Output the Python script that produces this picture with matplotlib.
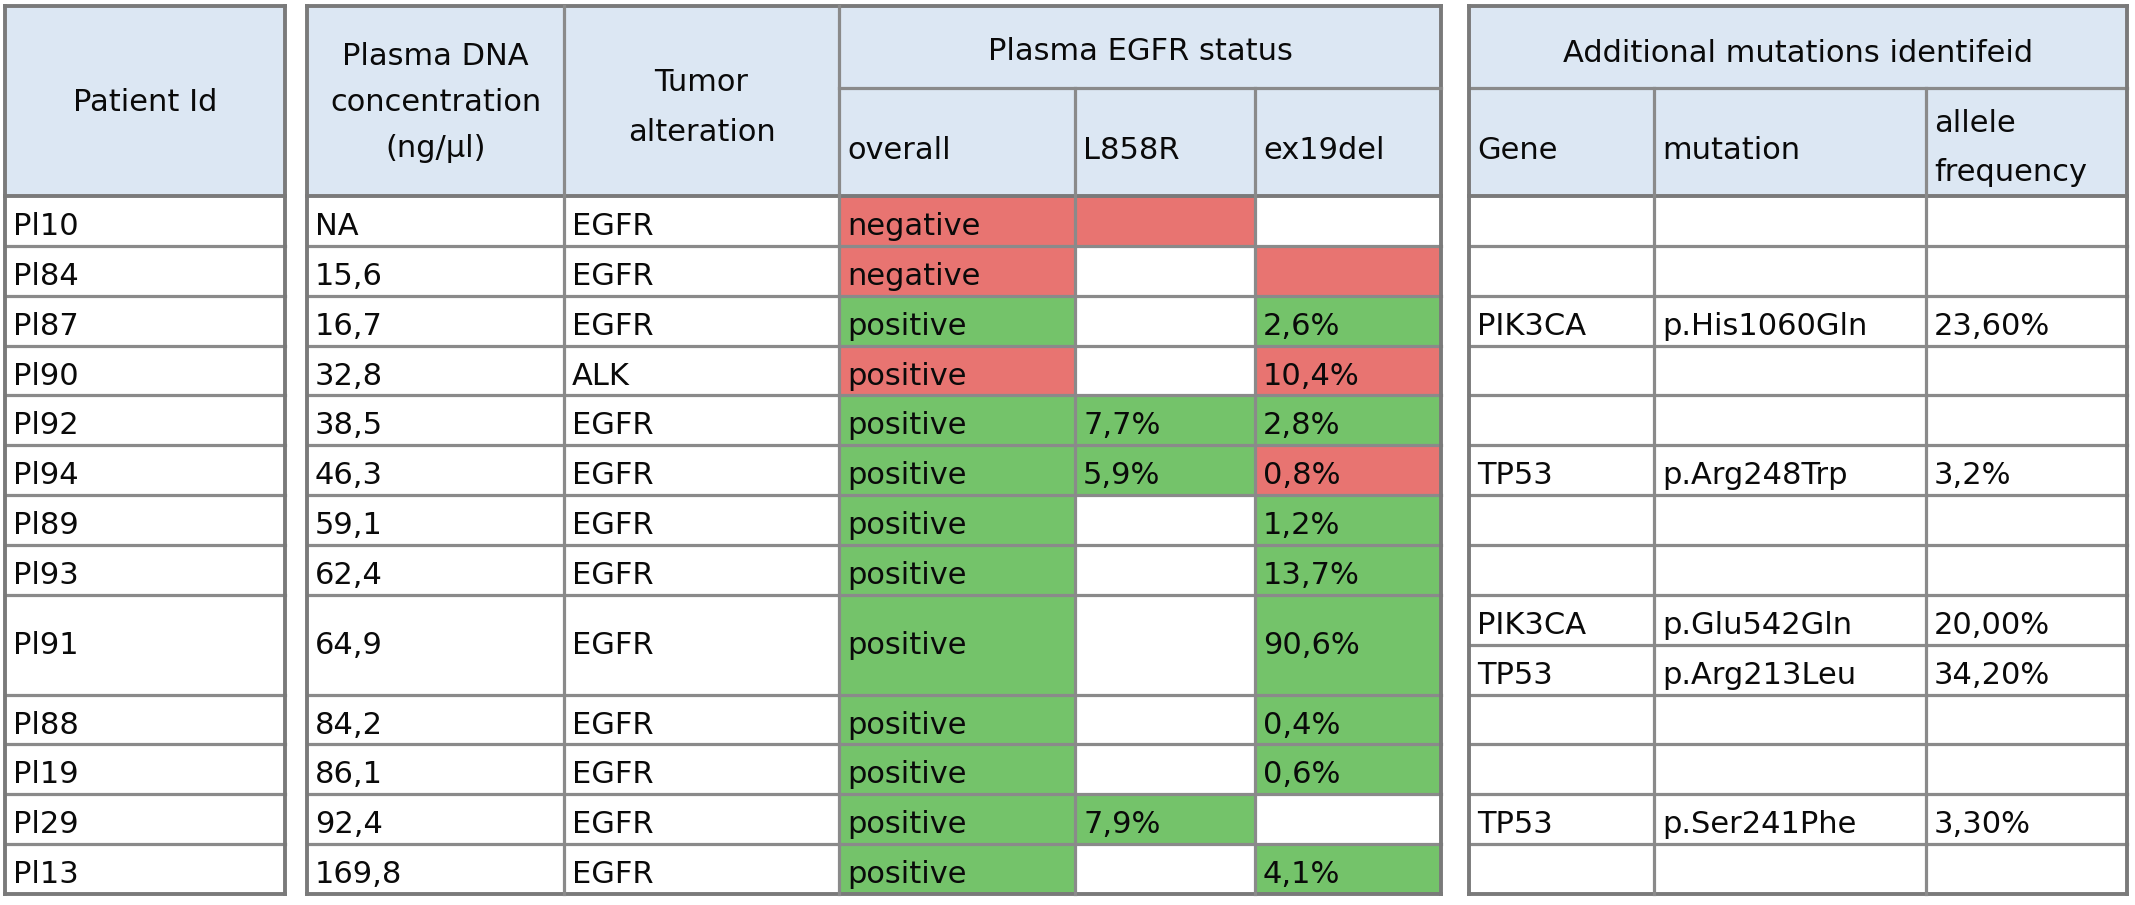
import matplotlib
matplotlib.use("Agg")
import matplotlib.pyplot as plt
from matplotlib.patches import Rectangle

# ---------------- data ----------------
patients = ["Pl10", "Pl84", "Pl87", "Pl90", "Pl92", "Pl94", "Pl89", "Pl93",
            "Pl91", "Pl88", "Pl19", "Pl29", "Pl13"]
dna_conc = ["NA", "15,6", "16,7", "32,8", "38,5", "46,3", "59,1", "62,4",
            "64,9", "84,2", "86,1", "92,4", "169,8"]
tumor_alt = ["EGFR", "EGFR", "EGFR", "ALK", "EGFR", "EGFR", "EGFR", "EGFR",
             "EGFR", "EGFR", "EGFR", "EGFR", "EGFR"]
overall = ["negative", "negative", "positive", "positive", "positive", "positive",
           "positive", "positive", "positive", "positive", "positive", "positive",
           "positive"]
overall_flag = ["r", "r", "g", "r", "g", "g", "g", "g", "g", "g", "g", "g", "g"]
l858r = ["", "", "", "", "7,7%", "5,9%", "", "", "", "", "", "7,9%", ""]
l858r_flag = ["r", "", "", "", "g", "g", "", "", "", "", "", "g", ""]
ex19del = ["", "", "2,6%", "10,4%", "2,8%", "0,8%", "1,2%", "13,7%", "90,6%",
           "0,4%", "0,6%", "", "4,1%"]
ex19del_flag = ["", "r", "g", "r", "g", "r", "g", "g", "g", "g", "g", "", "g"]
row_span = [1, 1, 1, 1, 1, 1, 1, 1, 2, 1, 1, 1, 1]

add_patient = ["Pl87", "Pl94", "Pl91", "Pl91", "Pl29"]
add_gene = ["PIK3CA", "TP53", "PIK3CA", "TP53", "TP53"]
add_mutation = ["p.His1060Gln", "p.Arg248Trp", "p.Glu542Gln", "p.Arg213Leu", "p.Ser241Phe"]
add_freq = ["23,60%", "3,2%", "20,00%", "34,20%", "3,30%"]

hdr_patient = ["Patient Id"]
hdr_dna = ["Plasma DNA", "concentration", "(ng/\u00b5l)"]
hdr_tumor = ["Tumor", "alteration"]
hdr_status = "Plasma EGFR status"
hdr_status_sub = ["overall", "L858R", "ex19del"]
hdr_add = "Additional mutations identifeid"
hdr_add_sub = [["Gene"], ["mutation"], ["allele", "frequency"]]

# ---------------- layout (pixels) ----------------
W, H, DPI = 2135, 905, 100
TOP, SUB, HB, BOT = 6, 88, 196, 894
T1 = [5, 285]
T2 = [307, 564, 839, 1075, 1255, 1441]
T3 = [1469, 1654, 1926, 2127]
BLUE = "#dce7f3"
RED = "#e87471"
GREEN = "#74c36a"
LC = "#8a8a8a"
LC_OUT = "#7a7a7a"
LW = 2.3
FS = 22
TC = "#0a0a0a"
FAM = ["DejaVu Sans"]
PAD = 8

colors = {"r": RED, "g": GREEN, "": None}

fig = plt.figure(figsize=(W / DPI, H / DPI), dpi=DPI)
ax = fig.add_axes([0, 0, 1, 1])
ax.set_xlim(0, W)
ax.set_ylim(H, 0)
ax.axis("off")

n_units = sum(row_span)
unit = (BOT - HB) / n_units

row_top = []
acc = 0
for s in row_span:
    row_top.append(HB + acc * unit)
    acc += s


def txt(x, y, s, ha="left"):
    ax.text(x, y, s, ha=ha, va="baseline", fontsize=FS, family=FAM, color=TC)


def fill(x0, x1, y0, y1, c):
    ax.add_patch(Rectangle((x0, y0), x1 - x0, y1 - y0, facecolor=c,
                           edgecolor="none", zorder=0))


def hline(x0, x1, y, lw=LW, c=LC):
    ax.plot([x0, x1], [y, y], color=c, lw=lw, solid_capstyle="projecting", zorder=3)


def vline(x, y0, y1, lw=LW, c=LC):
    ax.plot([x, x], [y0, y1], color=c, lw=lw, solid_capstyle="projecting", zorder=3)


for tb in (T1, T2, T3):
    fill(tb[0], tb[-1], TOP, HB, BLUE)

for i in range(len(patients)):
    y0 = row_top[i]
    y1 = y0 + row_span[i] * unit
    for flag, (xa, xb) in ((overall_flag[i], (T2[2], T2[3])),
                           (l858r_flag[i], (T2[3], T2[4])),
                           (ex19del_flag[i], (T2[4], T2[5]))):
        c = colors[flag]
        if c:
            fill(xa, xb, y0, y1, c)


def cx(a, b):
    return (a + b) / 2


txt(cx(*T1), 111, hdr_patient[0], ha="center")
for k, s in enumerate(hdr_dna):
    txt(cx(T2[0], T2[1]), 65 + k * 46, s, ha="center")
for k, s in enumerate(hdr_tumor):
    txt(cx(T2[1], T2[2]), 91 + k * 50, s, ha="center")
txt(cx(T2[2], T2[5]), 60, hdr_status, ha="center")
for k, s in enumerate(hdr_status_sub):
    txt(T2[2 + k] + PAD, 159, s)
txt(cx(T3[0], T3[3]), 62, hdr_add, ha="center")
for k, lines in enumerate(hdr_add_sub):
    if len(lines) == 1:
        txt(T3[k] + PAD, 159, lines[0])
    else:
        for j, s in enumerate(lines):
            txt(T3[k] + PAD, 132 + j * 49, s)

for i in range(len(patients)):
    y0 = row_top[i]
    h = row_span[i] * unit
    base = y0 + h / 2 + (14 if row_span[i] == 1 else 9)
    txt(T1[0] + PAD, base, patients[i])
    txt(T2[0] + PAD, base, dna_conc[i])
    txt(T2[1] + PAD, base, tumor_alt[i])
    txt(T2[2] + PAD, base, overall[i])
    txt(T2[3] + PAD, base, l858r[i])
    txt(T2[4] + PAD, base, ex19del[i])

sub_rows = []
for i, p in enumerate(patients):
    muts = [k for k, ap in enumerate(add_patient) if ap == p]
    for j in range(row_span[i]):
        sub_rows.append(muts[j] if j < len(muts) else None)
for r, k in enumerate(sub_rows):
    if k is None:
        continue
    base = HB + r * unit + unit / 2 + 14
    txt(T3[0] + PAD, base, add_gene[k])
    txt(T3[1] + PAD, base, add_mutation[k])
    txt(T3[2] + PAD, base, add_freq[k])

OW = LW + 0.5
for tb in (T1, T2):
    hline(tb[0], tb[-1], TOP, OW, LC_OUT)
    hline(tb[0], tb[-1], HB, OW, LC_OUT)
    for y in row_top[1:]:
        hline(tb[0], tb[-1], y)
    hline(tb[0], tb[-1], BOT, OW, LC_OUT)
    vline(tb[0], TOP, BOT, OW, LC_OUT)
    vline(tb[-1], TOP, BOT, OW, LC_OUT)
hline(T2[2], T2[5], SUB)
vline(T2[1], TOP, BOT)
vline(T2[2], TOP, BOT)
vline(T2[3], SUB, BOT)
vline(T2[4], SUB, BOT)

hline(T3[0], T3[-1], TOP, OW, LC_OUT)
hline(T3[0], T3[-1], SUB)
hline(T3[0], T3[-1], HB, OW, LC_OUT)
for r in range(1, n_units):
    hline(T3[0], T3[-1], HB + r * unit)
hline(T3[0], T3[-1], BOT, OW, LC_OUT)
vline(T3[0], TOP, BOT, OW, LC_OUT)
vline(T3[-1], TOP, BOT, OW, LC_OUT)
for x in T3[1:-1]:
    vline(x, SUB, BOT)

fig.savefig("out.png", dpi=DPI, facecolor="white")
